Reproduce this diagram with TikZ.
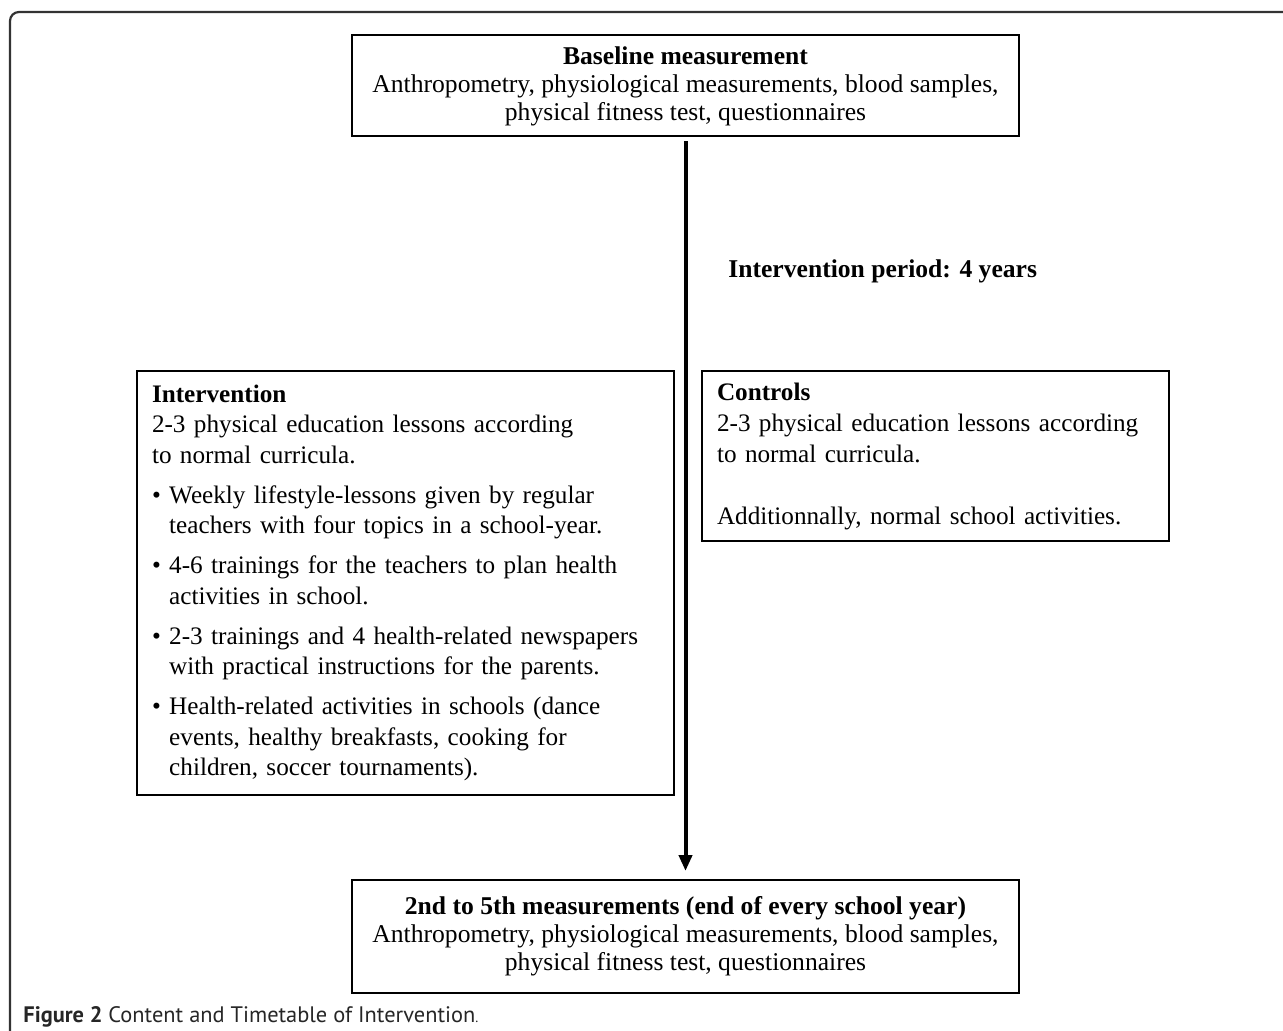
\documentclass[tikz,border=0pt]{standalone}
\usepackage{fontspec}
\setmainfont{Liberation Serif}
\newfontfamily\capfont{PT Sans}
\usetikzlibrary{arrows.meta}
\begin{document}
\begin{tikzpicture}[x=0.5pt,y=-0.5pt,
  box/.style={draw=black, line width=1pt, inner xsep=7.5pt, inner ysep=3pt},
  wide/.style={box, minimum width=333.5pt, align=center, font=\fontsize{12.8}{14}\selectfont},
  side/.style={box, align=left},
  flow/.style={line width=2pt, -{Triangle[length=8pt,width=6.5pt]}, shorten <=2pt, shorten >=4pt},
  frame/.style={line width=1.1pt, black!80, rounded corners=4.5pt}]
\useasboundingbox (0,0) rectangle (1283,1031);
\draw[frame] (10,1045) -- (10,12) -- (1300,12);

\node[wide, minimum height=50.5pt] (base) at (685.5,86)
  {\textbf{Baseline measurement}\\Anthropometry, physiological measurements, blood samples,\\physical fitness test, questionnaires};

\node[wide, minimum height=56.5pt] (final) at (685.5,936.5)
  {\textbf{2nd to 5th measurements (end of every school year)}\\Anthropometry, physiological measurements, blood samples,\\physical fitness test, questionnaires};

\node[side, text width=253.5pt, minimum height=212pt, font=\fontsize{12.6}{15.25}\selectfont] (interv) at (405.5,583)
  {\textbf{Intervention}\\
   2-3 physical education lessons according\\
   to normal curricula.\\[4.75pt]
   \textbullet\ Weekly lifestyle-lessons given by regular\\
   \hphantom{\textbullet\ }teachers with four topics in a school-year.\\[4.75pt]
   \textbullet\ 4-6 trainings for the teachers to plan health\\
   \hphantom{\textbullet\ }activities in school.\\[4.75pt]
   \textbullet\ 2-3 trainings and 4 health-related newspapers\\
   \hphantom{\textbullet\ }with practical instructions for the parents.\\[4.75pt]
   \textbullet\ Health-related activities in schools (dance\\
   \hphantom{\textbullet\ }events, healthy breakfasts, cooking for\\
   \hphantom{\textbullet\ }children, soccer tournaments).};

\node[side, text width=218.5pt, minimum height=85pt, font=\fontsize{12.6}{15.5}\selectfont] (ctrl) at (935.5,456)
  {\textbf{Controls}\\
   2-3 physical education lessons according\\
   to normal curricula.\\[15.5pt]
   Additionnally, normal school activities.};

\node[anchor=west, inner sep=0pt, font=\bfseries\fontsize{12.8}{14}\selectfont] (period) at (728,271) {Intervention period: 4 years};

\draw[flow] (base.south) -- (final.north);

\node[anchor=west, inner sep=0pt, text=black!85, font=\capfont\fontsize{11.2}{12}\selectfont] (cap) at (23,1017)
  {\textbf{Figure 2} Content and Timetable of Intervention{\fontsize{7}{8}\selectfont.}};
\end{tikzpicture}
\end{document}
